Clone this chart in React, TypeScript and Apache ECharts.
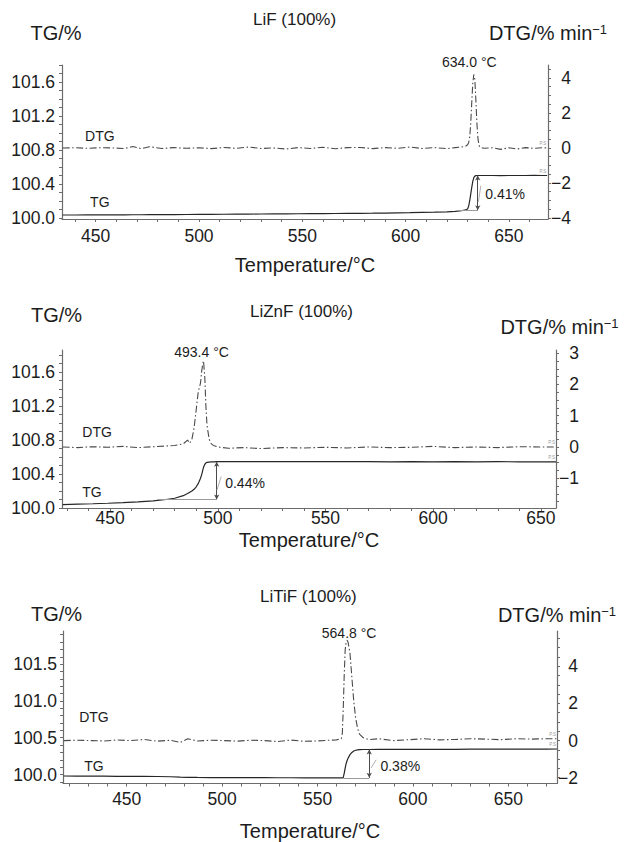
import React, { useEffect, useRef } from "react";
import * as echarts from "echarts";

const FONT = '"Liberation Sans", Arial, Helvetica, sans-serif';
const INK = "#1c1c1c";
const AXIS_C = "#6c6c6c";
const TG_C = "#262626";
const DTG_C = "#4a4a4a";
const NOTE_C = "#9a9a9a";

// ---------- Panel 1: LiF ----------
const lifTemp = [
  434, 440, 446, 452, 458, 464, 468, 472, 476, 482,
  488, 494, 500, 506, 512, 518, 524, 530, 536, 542,
  548, 554, 560, 566, 572, 578, 584, 590, 596, 602,
  608, 614, 620, 624, 627, 629, 630, 630.5, 631, 631.5,
  632, 632.5, 633, 633.5, 634, 634.5, 635, 635.5, 636, 638,
  642, 646, 650, 654, 658, 662, 666, 668.5,
];
const lifTG = [
  100.035, 100.035, 100.036, 100.036, 100.037, 100.037, 100.038, 100.038, 100.039, 100.04,
  100.04, 100.041, 100.042, 100.043, 100.044, 100.045, 100.046, 100.047, 100.048, 100.049,
  100.05, 100.051, 100.052, 100.053, 100.054, 100.055, 100.056, 100.058, 100.06, 100.062,
  100.065, 100.068, 100.072, 100.078, 100.085, 100.095, 100.105, 100.14, 100.2, 100.28,
  100.36, 100.43, 100.475, 100.493, 100.498, 100.5, 100.5, 100.5, 100.5, 100.5,
  100.5, 100.499, 100.5, 100.5, 100.5, 100.501, 100.5, 100.5,
];
const lifDTG = [
  0.0, 0.01, -0.02, 0.01, 0.0, -0.03, 0.08, -0.04, 0.07, -0.03,
  0.02, -0.02, 0.01, -0.04, 0.03, -0.02, 0.05, -0.03, 0.0, -0.06,
  0.02, -0.03, 0.04, -0.05, 0.02, 0.03, -0.04, 0.02, -0.02, 0.05,
  -0.03, 0.02, -0.04, 0.02, 0.05, 0.1, 0.18, 0.3, 0.6, 1.4,
  2.6, 3.7, 4.2, 3.9, 2.7, 1.4, 0.55, 0.15, 0.04, -0.02,
  0.01, -0.08, 0.01, -0.06, 0.02, -0.02, 0.01, 0.0,
];

// ---------- Panel 2: LiZnF ----------
const liznfTemp = [
  428, 435, 442, 449, 456, 463, 470, 476, 480, 484,
  486, 487, 488, 489, 490, 491, 491.5, 492, 492.5, 493,
  493.4, 494, 494.5, 495, 496, 497, 498, 500, 505, 512,
  520, 530, 540, 550, 560, 570, 580, 590, 600, 610,
  620, 630, 640, 650, 657,
];
const liznfTG = [
  100.04, 100.045, 100.05, 100.056, 100.063, 100.072, 100.085, 100.1, 100.115, 100.145,
  100.17, 100.185, 100.2, 100.22, 100.25, 100.29, 100.32, 100.35, 100.39, 100.44,
  100.48, 100.515, 100.53, 100.537, 100.541, 100.543, 100.544, 100.545, 100.546, 100.546,
  100.547, 100.546, 100.545, 100.546, 100.545, 100.545, 100.544, 100.545, 100.544, 100.545,
  100.544, 100.545, 100.544, 100.544, 100.544,
];
const liznfDTG = [
  0.0, -0.02, 0.01, -0.01, 0.02, -0.02, 0.01, 0.03, 0.05, 0.1,
  0.22, 0.12, 0.25, 0.6, 1.2, 1.8, 1.9, 2.05, 2.4, 2.65,
  2.75, 2.2, 1.3, 0.7, 0.25, 0.1, 0.05, 0.0, -0.04, -0.02,
  -0.05, -0.02, -0.03, -0.01, -0.03, 0.0, -0.02, -0.01, 0.02, -0.02,
  0.0, -0.02, 0.01, 0.0, 0.0,
];

// ---------- Panel 3: LiTiF ----------
const litifTemp = [
  417, 424, 431, 438, 445, 452, 459, 466, 473, 478,
  482, 487, 494, 501, 508, 515, 522, 529, 536, 543,
  550, 556, 560, 562.5, 563, 563.5, 564, 564.5, 565, 565.5,
  566, 567, 568, 569, 570, 571, 572, 574, 577, 582,
  590, 598, 606, 614, 622, 630, 638, 646, 654, 662,
  670, 675.5,
];
const litifTG = [
  99.98, 99.979, 99.978, 99.977, 99.976, 99.975, 99.975, 99.973, 99.97, 99.965,
  99.962, 99.96, 99.959, 99.958, 99.958, 99.957, 99.957, 99.956, 99.956, 99.955,
  99.955, 99.955, 99.955, 99.955, 99.955, 99.96, 100.02, 100.09, 100.15, 100.19,
  100.22, 100.27, 100.3, 100.32, 100.33, 100.335, 100.338, 100.34, 100.34, 100.341,
  100.341, 100.342, 100.342, 100.343, 100.343, 100.344, 100.344, 100.345, 100.345, 100.346,
  100.346, 100.347,
];
const litifDTG = [
  0.0, 0.02, 0.0, -0.02, 0.03, 0.0, 0.06, -0.03, 0.02, -0.1,
  0.1, -0.02, 0.02, 0.0, -0.03, 0.02, 0.0, -0.05, 0.03, -0.04,
  -0.02, 0.02, 0.04, 0.1, 0.4, 1.8, 3.6, 4.9, 5.3, 5.4,
  5.3, 4.7, 3.4, 2.1, 1.2, 0.65, 0.35, 0.15, 0.05, 0.1,
  0.0, 0.05, 0.1, 0.04, 0.06, 0.1, 0.08, 0.05, 0.1, 0.08,
  0.1, 0.1,
];

// ---------- Labels & annotations ----------
const titles = ["LiF (100%)", "LiZnF (100%)", "LiTiF (100%)"];
const xTickLabels = [450, 500, 550, 600, 650];
const tgTickLabels = [
  [100.0, 100.4, 100.8, 101.2, 101.6],
  [100.0, 100.4, 100.8, 101.2, 101.6],
  [100.0, 100.5, 101.0, 101.5],
];
const dtgTickLabels = [
  [-4, -2, 0, 2, 4],
  [-1, 0, 1, 2, 3],
  [-2, 0, 2, 4],
];
const xRanges = [[433.7, 668.9], [427.7, 657], [416.6, 675.5]];
const tgRanges = [[99.988, 101.8], [100.0, 101.86], [99.878, 101.95]];
const dtgRanges = [[-4.06, 4.74], [-1.95, 3.1], [-2.31, 5.9]];
const tgTickStep = [0.1, 0.1, 0.1];
const dtgTickStep = [0.5, 0.25, 0.5];

const peakTemps = [633.0, 493.4, 565.5];
const peakValues = [4.2, 2.75, 5.4];
const peakLabels = ["634.0 °C", "493.4 °C", "564.8 °C"];

const stepTemps = [634.9, 499.5, 577.1];
const stepLow = [100.09, 100.1, 99.955];
const stepHigh = [100.5, 100.545, 100.34];
const stepBaseFrom = [626, 472, 563.5];
const stepLabels = ["0.41%", "0.44%", "0.38%"];
const leaderLines = [
  [635.2, 100.19, 636.4, 100.38],
  [499.6, 100.21, 501.6, 100.37],
  [578.1, 100.09, 580.7, 100.2],
];
const curveLabelTemps = [[452, 452], [444, 441.6], [432.8, 432.8]];

// ---------- Layout (pixels) ----------
const layout = [
  {
    grid: { left: 62, top: 65, width: 486, height: 154 },
    titleLeft: 253, titleTop: 11,
    leftNameGap: 22, leftNamePad: [0, 12, 0, 0],
    rightNameGap: 22, rightNamePad: [0, 0, 0, 0],
    xLabelMargin: 8, xNameGap: 36, rightLabelMargin: 23, leftLabelMargin: 7,
    dtgLabelDist: 4.9, tgLabelDist: 5.9,
    peakDist: 5.4, peakOffset: [-4.5, 0],
    pctDist: 7, pctOffset: [0, 1],
  },
  {
    grid: { left: 62, top: 350, width: 494, height: 158 },
    titleLeft: 250, titleTop: 302.5,
    leftNameGap: 25, leftNamePad: [0, 11, 0, 0],
    rightNameGap: 13, rightNamePad: [0, 0, 0, 7],
    xLabelMargin: 1, xNameGap: 21.5, rightLabelMargin: 23, leftLabelMargin: 7,
    dtgLabelDist: 7, tgLabelDist: 4.75,
    peakDist: 1.9, peakOffset: [-2, 0],
    pctDist: 8, pctOffset: [0, 2],
  },
  {
    grid: { left: 63, top: 631, width: 494, height: 156.5 },
    titleLeft: 260, titleTop: 587.5,
    leftNameGap: 7, leftNamePad: [0, 13, 0, 0],
    rightNameGap: 6, rightNamePad: [0, 0, 0, 0],
    xLabelMargin: 6, xNameGap: 37.5, rightLabelMargin: 21, leftLabelMargin: 6,
    dtgLabelDist: 15.8, tgLabelDist: 3,
    peakDist: 0, peakOffset: [2, 0],
    pctDist: 10.7, pctOffset: [0, 2],
  },
];

const temps = [lifTemp, liznfTemp, litifTemp];
const tgs = [lifTG, liznfTG, litifTG];
const dtgs = [lifDTG, liznfDTG, litifDTG];

function ticksBetween(min: number, max: number, step: number): number[] {
  const out: number[] = [];
  const start = Math.ceil(min / step - 1e-9);
  for (let k = start; k * step <= max + 1e-9; k++) out.push(+(k * step).toFixed(6));
  return out;
}

function interp(xs: number[], ys: number[], x: number): number {
  for (let i = 1; i < xs.length; i++) {
    if (x <= xs[i]) {
      const t = (x - xs[i - 1]) / (xs[i] - xs[i - 1]);
      return ys[i - 1] + t * (ys[i] - ys[i - 1]);
    }
  }
  return ys[ys.length - 1];
}

const minus = (s: string) => s.replace("-", "\u2212");

function buildOption() {
  const grid: any[] = [];
  const xAxis: any[] = [];
  const yAxis: any[] = [];
  const series: any[] = [];
  const title: any[] = [];
  const tickLabelStyle = { color: INK, fontSize: 17.5, fontFamily: FONT };
  const noteStyle = { color: INK, fontSize: 14, fontFamily: FONT };

  for (let i = 0; i < 3; i++) {
    const L = layout[i];
    grid.push({ ...L.grid, containLabel: false });
    title.push({
      text: titles[i],
      left: L.titleLeft,
      top: L.titleTop,
      padding: 0,
      textStyle: { color: INK, fontSize: 17, fontWeight: "normal", fontFamily: FONT },
    });
    const [xMin, xMax] = xRanges[i];
    xAxis.push({
      type: "value",
      gridIndex: i,
      position: "bottom",
      min: xMin,
      max: xMax,
      name: "Temperature/°C",
      nameLocation: "middle",
      nameGap: L.xNameGap,
      nameTextStyle: { color: INK, fontSize: 20, fontFamily: FONT },
      axisLine: { show: true, onZero: false, lineStyle: { color: AXIS_C, width: 1.2 } },
      axisTick: { show: true, length: 3, customValues: ticksBetween(xMin, xMax, 10), lineStyle: { color: AXIS_C } },
      axisLabel: { ...tickLabelStyle, margin: L.xLabelMargin, customValues: xTickLabels, formatter: (v: number) => String(v) },
      splitLine: { show: false },
    });
    const [tMin, tMax] = tgRanges[i];
    yAxis.push({
      type: "value",
      gridIndex: i,
      position: "left",
      min: tMin,
      max: tMax,
      name: "TG/%",
      nameLocation: "end",
      nameGap: L.leftNameGap,
      nameTextStyle: { color: INK, fontSize: 20, fontFamily: FONT, padding: L.leftNamePad },
      axisLine: { show: true, onZero: false, lineStyle: { color: AXIS_C, width: 1.2 } },
      axisTick: { show: true, length: 3, customValues: ticksBetween(tMin, tMax, tgTickStep[i]), lineStyle: { color: AXIS_C } },
      axisLabel: { ...tickLabelStyle, margin: L.leftLabelMargin, customValues: tgTickLabels[i], formatter: (v: number) => v.toFixed(1) },
      splitLine: { show: false },
    });
    const [dMin, dMax] = dtgRanges[i];
    yAxis.push({
      type: "value",
      gridIndex: i,
      position: "right",
      min: dMin,
      max: dMax,
      name: "DTG/% min{sup|\u22121}",
      nameLocation: "end",
      nameGap: L.rightNameGap,
      nameTextStyle: {
        color: INK,
        fontSize: 20,
        fontFamily: FONT,
        padding: L.rightNamePad,
        rich: { sup: { color: INK, fontSize: 13, fontFamily: FONT, verticalAlign: "top" } },
      },
      axisLine: { show: true, onZero: false, lineStyle: { color: AXIS_C, width: 1.2 } },
      axisTick: { show: true, length: 3, customValues: ticksBetween(dMin, dMax, dtgTickStep[i]), lineStyle: { color: AXIS_C } },
      axisLabel: {
        ...tickLabelStyle,
        align: "right",
        margin: L.rightLabelMargin,
        customValues: dtgTickLabels[i],
        formatter: (v: number) => minus(String(Math.round(v))),
      },
      splitLine: { show: false },
    });

    const T = temps[i];
    const tgData = T.map((t, k) => [t, tgs[i][k]]);
    const dtgData = T.map((t, k) => [t, dtgs[i][k]]);
    const [dtgLabT, tgLabT] = curveLabelTemps[i];
    const lead = leaderLines[i];
    const tiny = { symbol: "circle", symbolSize: 1, itemStyle: { color: "rgba(0,0,0,0)" } };

    series.push({
      name: `TG-${i}`,
      type: "line",
      xAxisIndex: i,
      yAxisIndex: 2 * i,
      data: tgData,
      showSymbol: false,
      silent: true,
      lineStyle: { color: TG_C, width: 1.2 },
      endLabel: { show: true, formatter: "P.S", color: NOTE_C, fontSize: 4.5, fontFamily: FONT, align: "right", distance: 0, offset: [-1, -4] },
      markLine: {
        silent: true,
        animation: false,
        label: { show: false },
        symbolSize: [4, 5],
        data: [
          [
            { coord: [stepTemps[i], stepLow[i]], symbol: "arrow", lineStyle: { color: "#4a4a4a", width: 1, type: "solid" } },
            { coord: [stepTemps[i], stepHigh[i]], symbol: "arrow" },
          ],
          [
            { coord: [stepBaseFrom[i], stepLow[i]], symbol: "none", lineStyle: { color: NOTE_C, width: 1, type: "solid" } },
            { coord: [stepTemps[i], stepLow[i]], symbol: "none" },
          ],
          [
            { coord: [lead[0], lead[1]], symbol: "none", lineStyle: { color: NOTE_C, width: 0.8, type: "solid" } },
            { coord: [lead[2], lead[3]], symbol: "none" },
          ],
        ],
      },
      markPoint: {
        silent: true,
        animation: false,
        data: [
          {
            ...tiny,
            coord: [tgLabT, interp(T, tgs[i], tgLabT)],
            label: { show: true, ...noteStyle, position: "top", distance: L.tgLabelDist, formatter: "TG" },
          },
          {
            ...tiny,
            coord: [stepTemps[i], (stepLow[i] + stepHigh[i]) / 2],
            label: { show: true, ...noteStyle, position: "right", distance: L.pctDist, offset: L.pctOffset, formatter: stepLabels[i] },
          },
        ],
      },
    });

    series.push({
      name: `DTG-${i}`,
      type: "line",
      xAxisIndex: i,
      yAxisIndex: 2 * i + 1,
      data: dtgData,
      showSymbol: false,
      silent: true,
      lineStyle: { color: DTG_C, width: 1.1, type: [7, 2.5, 1.5, 2.5] },
      endLabel: { show: true, formatter: "P.S", color: NOTE_C, fontSize: 4.5, fontFamily: FONT, align: "right", distance: 0, offset: [-1, -4] },
      markPoint: {
        silent: true,
        animation: false,
        data: [
          {
            ...tiny,
            coord: [peakTemps[i], peakValues[i]],
            label: { show: true, ...noteStyle, position: "top", distance: L.peakDist, offset: L.peakOffset, formatter: peakLabels[i] },
          },
          {
            ...tiny,
            coord: [dtgLabT, 0],
            label: { show: true, ...noteStyle, position: "top", distance: L.dtgLabelDist, formatter: "DTG" },
          },
        ],
      },
    });
  }

  return {
    animation: false,
    backgroundColor: "#ffffff",
    textStyle: { fontFamily: FONT },
    title,
    grid,
    xAxis,
    yAxis,
    series,
  };
}

export default function App() {
  const ref = useRef<HTMLDivElement>(null);
  useEffect(() => {
    document.body.style.margin = "0";
    if (!ref.current) return;
    const chart = echarts.init(ref.current, undefined, { renderer: "svg" });
    chart.setOption(buildOption() as any);
    return () => chart.dispose();
  }, []);
  return <div ref={ref} style={{ width: 625, height: 842, background: "#fff" }} />;
}
